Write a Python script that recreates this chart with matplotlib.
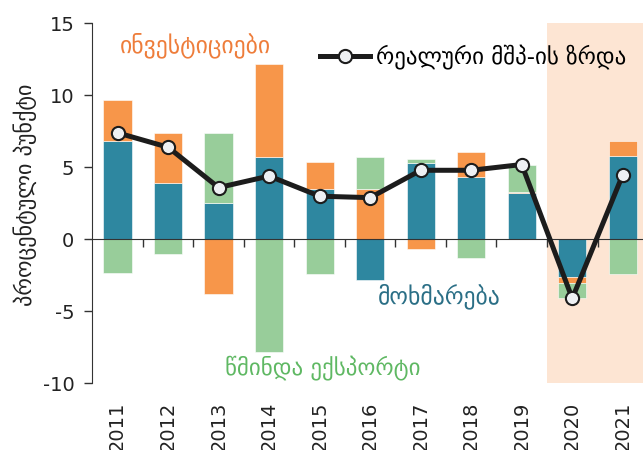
import numpy as np
import matplotlib
matplotlib.use("Agg")
import matplotlib.pyplot as plt
from matplotlib.lines import Line2D

plt.rcParams['font.family'] = ['DejaVu Sans']
plt.rcParams['axes.unicode_minus'] = False

years = ["2011", "2012", "2013", "2014", "2015", "2016", "2017", "2018", "2019", "2020", "2021"]
consumption = [6.8, 3.9, 2.5, 5.7, 3.5, -2.8, 5.3, 4.3, 3.2, -2.6, 5.8]
investment = [2.9, 3.5, -3.8, 6.5, 1.9, 3.5, -0.7, 1.8, 0.1, -0.4, 1.0]
net_export = [-2.3, -1.0, 4.9, -7.8, -2.4, 2.2, 0.3, -1.3, 1.9, -1.1, -2.4]
gdp_growth = [7.4, 6.4, 3.6, 4.4, 3.0, 2.9, 4.8, 4.8, 5.2, -4.1, 4.5]

TEAL = "#2e87a0"
ORANGE = "#f7964a"
GREEN = "#98cd9a"

fig = plt.figure(figsize=(6.43, 4.5), dpi=100)
ax = fig.add_axes([0.1436, 0.148, 0.8564, 0.8])

x = np.arange(len(years))

# shaded area for 2020-2021
ax.axvspan(8.5, 10.4, color="#fde5d3", zorder=0, lw=0)

# stacked bars, positives up and negatives down
pos_bottom = np.zeros(len(years))
neg_bottom = np.zeros(len(years))
for vals, col in [(consumption, TEAL), (investment, ORANGE), (net_export, GREEN)]:
    vals = np.array(vals)
    bottoms = np.where(vals >= 0, pos_bottom, neg_bottom)
    ax.bar(x, vals, width=0.56, bottom=bottoms, color=col, zorder=2,
           edgecolor="white", linewidth=0.4)
    pos_bottom = pos_bottom + np.where(vals > 0, vals, 0)
    neg_bottom = neg_bottom + np.where(vals < 0, vals, 0)

ax.plot(x, gdp_growth, color="#1c1c1c", lw=3.6, marker="o", markersize=9.5,
        markerfacecolor="#eef0f3", markeredgecolor="#1c1c1c", markeredgewidth=1.5,
        zorder=4)

ax.set_xlim(-0.5, 10.4)
ax.set_ylim(-10, 15)
ax.set_yticks([-10, -5, 0, 5, 10, 15])
ax.tick_params(axis="y", direction="out", length=6, width=1, pad=7,
               labelsize=14, colors="#333333")
ax.tick_params(axis="y", labelcolor="#222222")

# x axis spine through zero with ticks between the years
ax.spines["bottom"].set_position(("data", 0))
ax.spines["bottom"].set_color("#333333")
ax.spines["bottom"].set_zorder(3)
ax.spines["top"].set_visible(False)
ax.spines["right"].set_visible(False)
ax.spines["left"].set_color("#333333")
ax.set_xticks(np.arange(0.5, 10, 1.0))
ax.tick_params(axis="x", direction="out", length=6, width=1, labelbottom=False,
               colors="#333333")

for i, yr in enumerate(years):
    ax.text(i, -0.05, yr, transform=ax.get_xaxis_transform(), rotation=90,
            ha="center", va="top", fontsize=14, color="#222222")

ax.set_ylabel("პროცენტული პუნქტი", fontsize=16, color="#222222")
ax.yaxis.set_label_coords(-0.10, 0.523)

ax.text(0.05, 13.5, "ინვესტიციები", color="#ee7d3b", fontsize=17, va="center")
ax.text(5.15, -3.95, "მოხმარება", color="#2b6f86", fontsize=17, va="center")
ax.text(2.13, -8.95, "წმინდა ექსპორტი", color="#5fb863", fontsize=16.5, va="center")

handle = Line2D([0], [0], color="#1c1c1c", lw=3.6, marker="o", markersize=9.5,
                markerfacecolor="#eef0f3", markeredgecolor="#1c1c1c",
                markeredgewidth=1.5)
ax.legend([handle], ["რეალური მშპ-ის ზრდა"], loc="center left",
          bbox_to_anchor=(0.413, 0.906), frameon=False, fontsize=16.5,
          handlelength=2.2, handletextpad=0.25, borderpad=0, borderaxespad=0)

fig.savefig("out.png", dpi=100)
